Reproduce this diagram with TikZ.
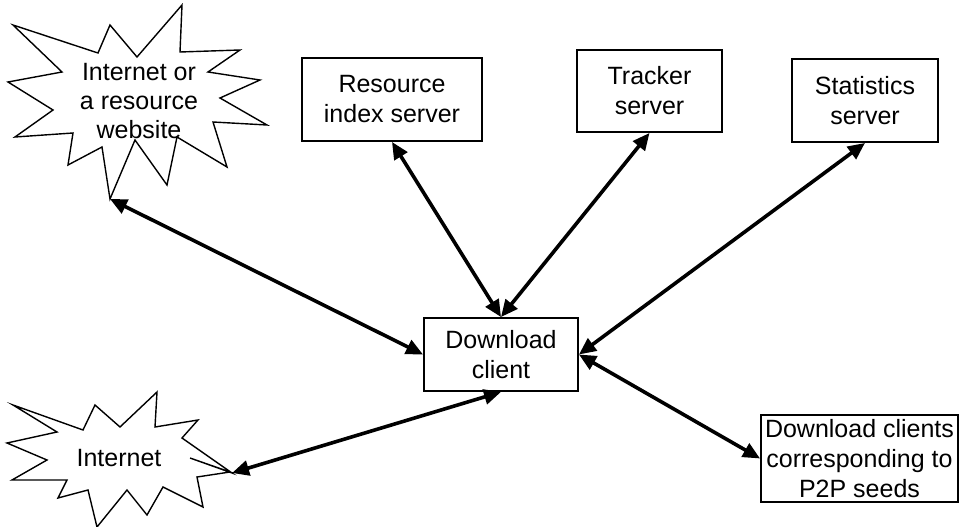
\documentclass[tikz,border=0pt]{standalone}
\usepackage{fontspec}
\setmainfont{Liberation Sans}
\usetikzlibrary{arrows.meta}
\begin{document}
\begin{tikzpicture}[x=1pt,y=-1pt,
  txt/.style={align=center,inner sep=0pt,font=\fontsize{25}{30}\selectfont},
  box/.style={txt,draw,line width=1.9pt},
  burst/.style={draw,line width=1.4pt,line join=miter},
  link/.style={line width=3.6pt,
    {Triangle[length=17pt,width=15pt]}-{Triangle[length=17pt,width=15pt]}}]
\useasboundingbox (0,0) rectangle (959,527);

% server boxes
\node[box,minimum width=180pt,minimum height=83pt] (res) at (392,99.5) {Resource\\index server};
\node[box,minimum width=145pt,minimum height=82pt] (tracker) at (649.5,91) {Tracker\\server};
\node[box,minimum width=146pt,minimum height=83pt] (stats) at (865,100.5) {Statistics\\server};
\node[box,minimum width=154pt,minimum height=73pt] (client) at (501,354.5) {Download\\client};
\node[box,minimum width=197pt,minimum height=87pt] (p2p) at (859.5,458.5) {Download clients\\corresponding to\\P2P seeds};

% starburst: internet or a resource website
\draw[burst] (13,25) -- (98,53) -- (110,25) -- (137,57) -- (182,5) -- (180,52)
  -- (240,50) -- (208,72) -- (260,80) -- (220,98) -- (267,125) -- (213,122)
  -- (227,167) -- (177,137) -- (167,185) -- (135,140) -- (110,199) -- (102,147)
  -- (68,165) -- (73,133) -- (15,137) -- (53,110) -- (8,82) -- (62,72) -- cycle;
\node[txt,font=\fontsize{25}{29}\selectfont] (web) at (139,101) {Internet or\\a resource\\website};
\coordinate (webtip) at (110,199);

% starburst: internet
\draw[burst] (13,405) -- (83,430) -- (95,405) -- (120,427) -- (157,392) -- (155,427)
  -- (198,420) -- (182,438) -- (232,473) -- (190,458) -- (230,472) -- (197,477)
  -- (203,507) -- (163,487) -- (147,515) -- (127,490) -- (97,527) -- (88,490)
  -- (58,498) -- (67,480) -- (12,480) -- (47,460) -- (7,443) -- (57,432) -- cycle;
\node[txt] (net) at (119,458) {Internet};
\coordinate (nettip) at (232,473);

% connectors
\draw[link] (webtip) -- (client.west);
\draw[link] (res.south) -- (client.north);
\draw[link] (tracker.south) -- (client.north);
\draw[link] (stats.south) -- (client.east);
\draw[link] (client.south) -- (nettip);
\draw[link] (client.east) -- (p2p.west);
\end{tikzpicture}
\end{document}
